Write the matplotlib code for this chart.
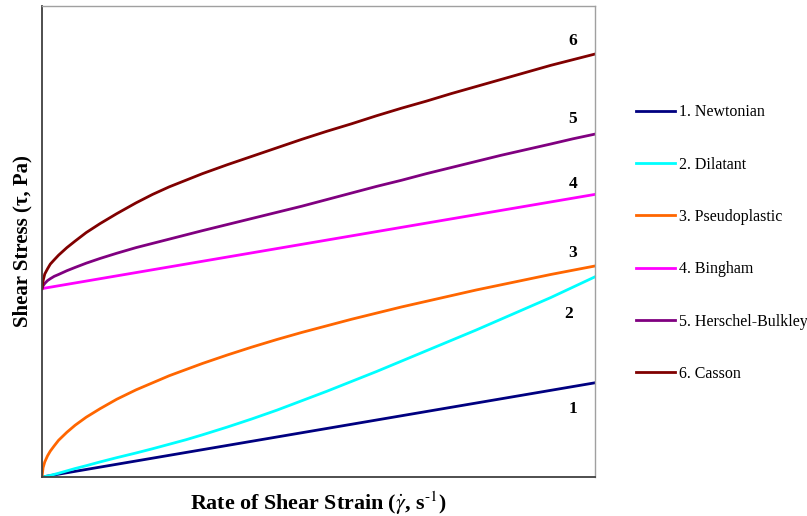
import matplotlib
matplotlib.use('Agg')
import matplotlib.pyplot as plt

plt.rcParams['font.family'] = ['Liberation Serif', 'DejaVu Serif']
plt.rcParams['mathtext.fontset'] = 'stix'

# shear rate (arbitrary units) and stress readings for each model
x_curve = [0, 0.2, 0.5, 1, 1.5, 2.2, 3, 4.5, 6, 8, 10.5, 13.5, 17, 20, 23, 26, 29,
           33.5, 38, 42.5, 47, 51.5, 56, 60.5, 65, 69.5, 74, 78.5, 83, 87.5, 92, 96, 100]

casson = [40.0, 41.7, 43.1, 44.2, 45.2, 46.1, 47.1, 48.7, 50.1, 51.9, 53.8, 55.9,
          58.2, 60.0, 61.6, 63.0, 64.4, 66.3, 68.1, 69.9, 71.7, 73.4, 75.0, 76.7,
          78.3, 79.8, 81.4, 82.9, 84.4, 85.9, 87.4, 88.6, 89.8]
herschel = [40.0, 40.6, 41.1, 41.7, 42.1, 42.6, 43.0, 43.8, 44.5, 45.4, 46.4, 47.5,
            48.7, 49.6, 50.5, 51.4, 52.3, 53.6, 54.9, 56.2, 57.5, 58.9, 60.3, 61.7,
            63.0, 64.4, 65.7, 67.0, 68.3, 69.5, 70.7, 71.8, 72.8]
pseudo = [0.0, 2.0, 3.2, 4.5, 5.5, 6.6, 7.8, 9.5, 11.0, 12.7, 14.5, 16.5,
          18.5, 20.0, 21.5, 22.8, 24.1, 25.9, 27.6, 29.2, 30.7, 32.1, 33.5, 34.8,
          36.1, 37.3, 38.5, 39.7, 40.8, 41.9, 43.0, 43.9, 44.8]
dilatant = [0.0, 0.03, 0.1, 0.2, 0.35, 0.55, 0.8, 1.3, 1.8, 2.4, 3.2, 4.1,
            5.1, 6.0, 6.95, 7.9, 8.95, 10.6, 12.35, 14.2, 16.2, 18.2, 20.3, 22.4,
            24.6, 26.8, 29.0, 31.2, 33.5, 35.8, 38.1, 40.3, 42.5]

x_line = [0, 100]
newtonian = [0, 20]
bingham = [40, 60]

labels = ['1. Newtonian', '2. Dilatant', '3. Pseudoplastic', '4. Bingham',
          '5. Herschel-Bulkley', '6. Casson']
colors = ['#000080', '#00FFFF', '#FF6600', '#FF00FF', '#800080', '#800000']

fig = plt.figure(figsize=(8.07, 5.16), dpi=100)
ax = fig.add_axes([42 / 807, 39 / 516, 553 / 807, 471 / 516])

lw = 2.0
ax.plot(x_line, newtonian, color=colors[0], lw=lw, label=labels[0])
ax.plot(x_curve, dilatant, color=colors[1], lw=lw, label=labels[1])
ax.plot(x_curve, pseudo, color=colors[2], lw=lw, label=labels[2])
ax.plot(x_line, bingham, color=colors[3], lw=lw, label=labels[3])
ax.plot(x_curve, herschel, color=colors[4], lw=lw, label=labels[4])
ax.plot(x_curve, casson, color=colors[5], lw=lw, label=labels[5])

ax.set_xlim(0, 100)
ax.set_ylim(0, 100)
ax.set_xticks([])
ax.set_yticks([])

for side in ['left', 'bottom']:
    ax.spines[side].set_color('#404040')
    ax.spines[side].set_linewidth(1.3)
for side in ['top', 'right']:
    ax.spines[side].set_color('#a0a0a0')
    ax.spines[side].set_linewidth(1.0)

# curve numbers near the right end
num_style = dict(fontsize=12.5, fontweight='bold', ha='center', va='center')
ax.text(96.0, 92.6, '6', **num_style)
ax.text(96.0, 76.0, '5', **num_style)
ax.text(96.0, 62.2, '4', **num_style)
ax.text(96.0, 47.6, '3', **num_style)
ax.text(95.3, 34.6, '2', **num_style)
ax.text(96.0, 14.4, '1', **num_style)

ax.set_xlabel(r'Rate of Shear Strain ($\dot{\gamma}$, s$^{\text{-1}}$)',
              fontsize=15.8, fontweight='bold', labelpad=9)
ax.set_ylabel('Shear Stress (τ, Pa)', fontsize=15, fontweight='bold', labelpad=7)

fig.legend(loc='upper left', bbox_to_anchor=(636 / 807, 1 - 104.5 / 516),
           frameon=False, fontsize=11.5, handlelength=2.45, handletextpad=0.25,
           labelspacing=2.27, borderpad=0, borderaxespad=0)

fig.savefig('out.png', dpi=100)
